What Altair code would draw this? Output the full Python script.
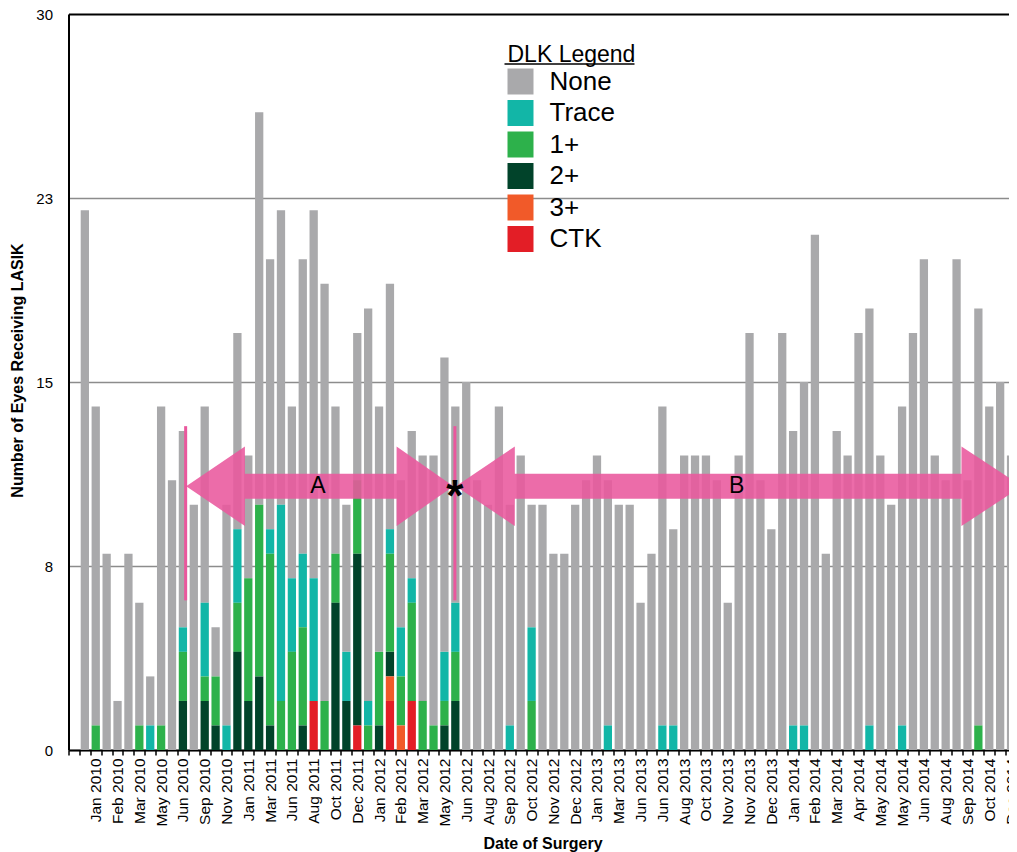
import json
import pandas as pd
import altair as alt

FONT = "Liberation Sans"
PINK = "#E9589D"
YTITLE = "Number of Eyes Receiving LASIK"

# ---------------- data ----------------
band_ids = list(range(87))

axis_month_labels = [
    "Jan 2010", "Feb 2010", "Mar 2010", "May 2010", "Jun 2010", "Sep 2010", "Nov 2010",
    "Jan 2011", "Mar 2011", "Jun 2011", "Aug 2011", "Oct 2011", "Dec 2011",
    "Jan 2012", "Feb 2012", "Mar 2012", "May 2012", "Jun 2012", "Aug 2012", "Sep 2012",
    "Oct 2012", "Nov 2012", "Dec 2012",
    "Jan 2013", "Mar 2013", "Jun 2013", "Jun 2013", "Aug 2013", "Oct 2013", "Nov 2013",
    "Nov 2013", "Dec 2013",
    "Jan 2014", "Feb 2014", "Mar 2014", "Apr 2014", "May 2014", "May 2014", "Jun 2014",
    "Aug 2014", "Sep 2014", "Oct 2014", "Dec 2014",
]

none_counts = [0, 22, 13, 8, 2, 8, 5, 2, 13, 11,
               8, 10, 8, 2, 9, 8, 5, 16, 11, 12,
               7, 12, 15, 17, 6, 6, 6, 16, 10, 10,
               6, 6, 10, 11, 12, 8, 15, 11, 10, 14,
               9, 12, 5, 10, 8, 8, 10, 11, 12, 10,
               10, 10, 6, 8, 13, 8, 12, 12, 12, 11,
               6, 12, 17, 11, 9, 17, 12, 14, 21, 8,
               13, 12, 17, 17, 12, 10, 13, 17, 20, 12,
               11, 20, 11, 17, 14, 15, 12]
trace_counts = [0, 0, 0, 0, 0, 0, 0, 1, 0, 0,
                1, 0, 3, 0, 1, 3, 0, 0, 1, 8,
                3, 3, 5, 0, 0, 2, 0, 1, 0, 1,
                2, 1, 0, 0, 2, 2, 0, 0, 0, 0,
                1, 0, 3, 0, 0, 0, 0, 0, 0, 1,
                0, 0, 0, 0, 1, 1, 0, 0, 0, 0,
                0, 0, 0, 0, 0, 0, 1, 1, 0, 0,
                0, 0, 0, 1, 0, 0, 1, 0, 0, 0,
                0, 0, 0, 0, 0, 0, 0]
plus1_counts = [0, 0, 1, 0, 0, 0, 1, 0, 1, 0,
                2, 0, 1, 2, 0, 2, 5, 7, 7, 2,
                4, 4, 0, 2, 2, 0, 3, 1, 3, 4,
                2, 4, 2, 1, 1, 2, 0, 0, 0, 0,
                0, 0, 2, 0, 0, 0, 0, 0, 0, 0,
                0, 0, 0, 0, 0, 0, 0, 0, 0, 0,
                0, 0, 0, 0, 0, 0, 0, 0, 0, 0,
                0, 0, 0, 0, 0, 0, 0, 0, 0, 0,
                0, 0, 0, 1, 0, 0, 0]
plus2_counts = [0, 0, 0, 0, 0, 0, 0, 0, 0, 0,
                2, 0, 2, 1, 0, 4, 2, 3, 1, 0,
                0, 1, 0, 0, 6, 2, 7, 0, 1, 1,
                0, 0, 0, 0, 1, 2, 0, 0, 0, 0,
                0, 0, 0, 0, 0, 0, 0, 0, 0, 0,
                0, 0, 0, 0, 0, 0, 0, 0, 0, 0,
                0, 0, 0, 0, 0, 0, 0, 0, 0, 0,
                0, 0, 0, 0, 0, 0, 0, 0, 0, 0,
                0, 0, 0, 0, 0, 0, 0]
plus3_counts = [0] * 29 + [1, 1] + [0] * 56
ctk_counts = ([0] * 22 + [2] + [0] * 3 + [1] + [0] * 2 + [2] + [0] + [2] + [0] * 55)

levels = ["None", "Trace", "1+", "2+", "3+", "CTK"]
level_colors = ["#A9A9AB", "#12B6A7", "#2DB14B", "#01432A", "#F15A29", "#E31E26"]
stack_rank = {"CTK": 0, "3+": 1, "2+": 2, "1+": 3, "Trace": 4, "None": 5}
series = {"None": none_counts, "Trace": trace_counts, "1+": plus1_counts,
          "2+": plus2_counts, "3+": plus3_counts, "CTK": ctk_counts}

# annotation values (in band units / y units)
arrow_names = ["A", "B"]
arrow_tip_left = [10.8, 35.55]
arrow_base_left = [16.19, 40.96]
arrow_base_right = [30.11, 81.95]
arrow_tip_right = [35.32, 87.5]
arrow_center = 10.75
arrow_shaft_half = 0.51
arrow_head_half = 1.62
arrow_label_u = [22.89, 61.33]
marker_u = [10.75, 35.46]
marker_lo = 6.1
marker_hi = 13.2
star_u = 35.46

# ---------------- tables ----------------
rows = []
for lvl, vals in series.items():
    for k, v in zip(band_ids, vals):
        rows.append({"band": k, "level": lvl, "count": v, "rank": stack_rank[lvl]})
df = pd.DataFrame(rows)

band_label = [""] * len(band_ids)
for i, name in enumerate(axis_month_labels):
    band_label[2 + 2 * i] = name
label_expr = json.dumps(band_label) + "[datum.value]"

arrow_rows = []
eps = 0.002
for name, tl, bl, br, tr in zip(arrow_names, arrow_tip_left, arrow_base_left,
                                arrow_base_right, arrow_tip_right):
    c, s, h = arrow_center, arrow_shaft_half, arrow_head_half
    pts = [(tl, c, c), (bl, c + h, c - h), (bl + eps, c + s, c - s),
           (br - eps, c + s, c - s), (br, c + h, c - h), (tr, c, c)]
    for (u, top, bot) in pts:
        arrow_rows.append({"arrow": name, "u": u, "top": top, "bot": bot})
arrow_df = pd.DataFrame(arrow_rows)

marker_df = pd.DataFrame({"u": marker_u, "lo": [marker_lo] * 2, "hi": [marker_hi] * 2})
label_df = pd.DataFrame({"u": arrow_label_u, "y": [arrow_center] * 2, "t": arrow_names})
star_df = pd.DataFrame({"u": [star_u], "y": [arrow_center], "t": ["*"]})

uscale = alt.Scale(domain=[0, 87], nice=False, zero=False)
yscale = alt.Scale(domain=[0, 30], nice=False)


def yenc(field):
    return alt.Y(field, scale=yscale, title=YTITLE)


# ---------------- bars ----------------
bars = alt.Chart(df).mark_bar(width=alt.RelativeBandSize(0.76), strokeWidth=0).encode(
    x=alt.X("band:O",
            scale=alt.Scale(domain=band_ids, paddingInner=0, paddingOuter=0),
            axis=alt.Axis(title="Date of Surgery", labelExpr=label_expr, labelAngle=270,
                          tickBand="extent", tickSize=5, tickWidth=1.5, tickColor="black",
                          domainColor="black", domainWidth=2, grid=False,
                          labelFont=FONT, labelFontSize=15.5, labelColor="black",
                          labelPadding=3, labelOverlap=False,
                          titleFont=FONT, titleFontSize=16, titleFontWeight="bold",
                          titleColor="black", titleY=98, titleBaseline="alphabetic")),
    y=alt.Y("count:Q", stack="zero", scale=yscale, title=YTITLE,
            axis=alt.Axis(values=[0, 7.5, 15, 22.5, 30],
                          labelExpr="'' + round(datum.value)",
                          ticks=False, domainColor="black", domainWidth=2,
                          grid=True,
                          gridColor={"condition": {"test": "datum.value === 30", "value": "black"},
                                     "value": "#8C8C8C"},
                          gridWidth={"condition": {"test": "datum.value === 30", "value": 2},
                                     "value": 1.5},
                          labelFont=FONT, labelFontSize=15, labelColor="black",
                          labelPadding=16,
                          titleFont=FONT, titleFontSize=16, titleFontWeight="bold",
                          titleColor="black", titleAngle=270, titleX=-51.5, titleY=356,
                          titleBaseline="middle")),
    color=alt.Color("level:N", scale=alt.Scale(domain=levels, range=level_colors),
                    legend=alt.Legend(title="DLK Legend", orient="none",
                                      legendX=439, legendY=30, padding=0,
                                      titleFont=FONT, titleFontSize=23,
                                      titleFontWeight="normal", titleColor="black",
                                      titlePadding=1.5,
                                      labelFont=FONT, labelFontSize=26, labelColor="black",
                                      symbolType="square", symbolSize=676,
                                      symbolStrokeWidth=0, symbolOpacity=1,
                                      rowPadding=5.5, labelOffset=16)),
    order=alt.Order("rank:Q", sort="ascending"),
)

# ---------------- annotations ----------------
arrow_layers = []
for name in arrow_names:
    arrow_layers.append(
        alt.Chart(arrow_df).transform_filter(alt.datum.arrow == name)
        .mark_area(color=PINK, opacity=0.88, interpolate="linear")
        .encode(
            x=alt.X("u:Q", scale=uscale, axis=None),
            y=yenc("top:Q"),
            y2="bot:Q",
        )
    )

markers = alt.Chart(marker_df).mark_rule(color=PINK, strokeWidth=3).encode(
    x=alt.X("u:Q", scale=uscale, axis=None),
    y=yenc("lo:Q"),
    y2="hi:Q",
)

letters = alt.Chart(label_df).mark_text(font=FONT, fontSize=23, color="black",
                                        baseline="middle").encode(
    x=alt.X("u:Q", scale=uscale, axis=None),
    y=yenc("y:Q"),
    text="t:N",
)

star = alt.Chart(star_df).mark_text(font=FONT, fontSize=44, fontWeight="bold", color="black",
                                    baseline="alphabetic", dy=25).encode(
    x=alt.X("u:Q", scale=uscale, axis=None),
    y=yenc("y:Q"),
    text="t:N",
)

underline = alt.Chart(pd.DataFrame({"a": [0]})).mark_rule(color="black", strokeWidth=1.5).encode(
    x=alt.value(436), x2=alt.value(566), y=alt.value(50),
)

chart = alt.layer(bars, *arrow_layers, markers, letters, star, underline).resolve_scale(
    x="independent"
).properties(
    width=948, height=736,
    autosize=alt.AutoSizeParams(type="none"),
    padding={"left": 60.5, "top": 6, "right": -7.5, "bottom": 102},
).configure_view(strokeWidth=0, stroke="transparent").configure(background="white")

chart.save("out.html", embed_options={"renderer": "svg", "actions": False})
